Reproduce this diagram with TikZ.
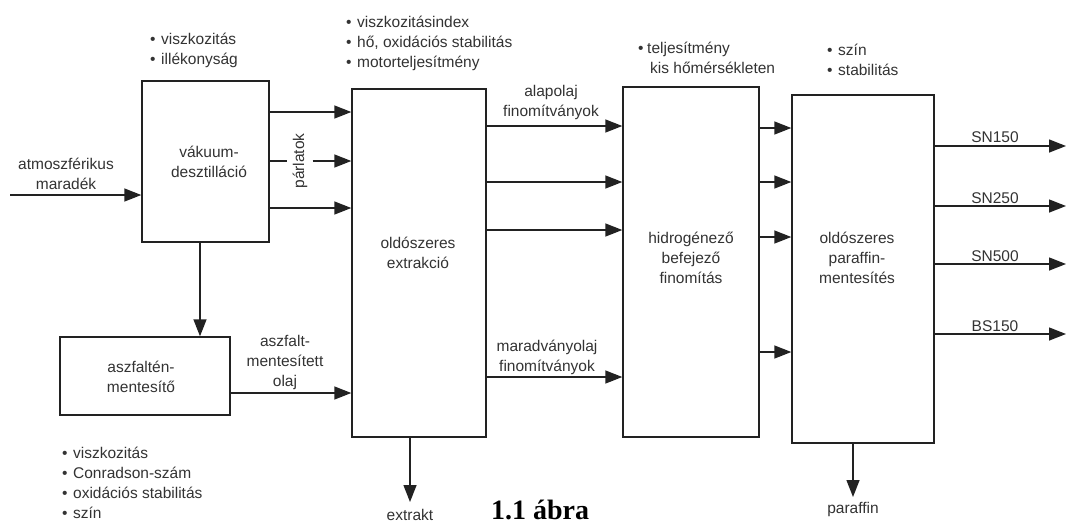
\documentclass[tikz,border=0pt]{standalone}
\usepackage{fontspec}
\setmainfont{Liberation Sans}
\newfontfamily\capfont{Liberation Serif}
\usetikzlibrary{arrows.meta}
\definecolor{linec}{HTML}{222222}
\definecolor{textc}{HTML}{333333}
\newcommand\bl{\makebox[11pt][l]{•}}
\tikzset{
  box/.style={draw=linec, line width=1.4pt, inner sep=0pt, fill=white},
  conn/.style={draw=linec, line width=1.4pt},
  arr/.style={conn, -{Triangle[length=17pt,width=13pt]}},
  txt/.style={text=textc, font=\fontsize{15.5}{20}\selectfont, align=center, inner sep=0pt},
  lst/.style={txt, align=left, anchor=west},
}
\begin{document}
\begin{tikzpicture}[x=1pt,y=-1pt]
\fill[white] (0,0) rectangle (1067,523);
\useasboundingbox (0,0) rectangle (1067,523);

% boxes
\node[box, minimum width=127pt, minimum height=161pt] (vd) at (205.5,161.5) {};
\node[box, minimum width=134pt, minimum height=348pt] (ex) at (419,263) {};
\node[box, minimum width=136pt, minimum height=350pt] (hb) at (691,262) {};
\node[box, minimum width=142pt, minimum height=348pt] (pm) at (863,269) {};
\node[box, minimum width=170pt, minimum height=78pt] (am) at (145,376) {};

% box texts
\node[txt] (vdt) at (209,161.5) {vákuum-\\desztilláció};
\node[txt] (ext) at (418,253) {oldószeres\\extrakció};
\node[txt] (hbt) at (691,258) {hidrogénező\\befejező\\finomítás};
\node[txt] (pmt) at (857,258) {oldószeres\\paraffin-\\mentesítés};
\node[txt] (amt) at (141,377) {aszfaltén-\\mentesítő};

% property lists
\node[lst] (l1) at (150,50.5) {\bl viszkozitás\\\bl illékonyság};
\node[lst] (l2) at (346,43) {\bl viszkozitásindex\\\bl hő, oxidációs stabilitás\\\bl motorteljesítmény};
\node[lst] (l3) at (638,57.5) {\makebox[9pt][l]{•}teljesítmény\\\hspace*{12pt}kis hőmérsékleten};
\node[lst] (l4) at (827,60) {\bl szín\\\bl stabilitás};
\node[lst] (l5) at (62,482.5) {\bl viszkozitás\\\bl Conradson-szám\\\bl oxidációs stabilitás\\\bl szín};

% level coordinates
\coordinate (y112) at (0,112);
\coordinate (y161) at (0,161);
\coordinate (y208) at (0,208);
\coordinate (y126) at (0,126);
\coordinate (y182) at (0,182);
\coordinate (y230) at (0,230);
\coordinate (y377) at (0,377);
\coordinate (y128) at (0,128);
\coordinate (y237) at (0,237);
\coordinate (y352) at (0,352);
\coordinate (y393) at (0,393);
\coordinate (x200) at (200,0);

% input
\coordinate (in) at (10,195);
\node[txt] (int) at (66,174) {atmoszférikus\\maradék};
\draw[arr] (in) -- (vd.west |- in);

% vacuum distillation -> extraction
\node[txt, rotate=90, inner xsep=2pt, inner ysep=5pt, fill=white] (pl) at (300,161) {párlatok};
\draw[arr] (vd.east |- y112) -- (ex.west |- y112);
\draw[conn] (vd.east |- y161) -- (pl.north);
\draw[arr] (pl.south) -- (ex.west |- y161);
\draw[arr] (vd.east |- y208) -- (ex.west |- y208);

% vacuum distillation -> deasphalting
\draw[arr] (vd.south -| x200) -- (am.north -| x200);

% deasphalting -> extraction
\draw[arr] (am.east |- y393) -- (ex.west |- y393);
\node[txt] (amo) at (285,362) {aszfalt-\\mentesített\\olaj};

% extraction -> hydrofinishing
\draw[arr] (ex.east |- y126) -- (hb.west |- y126);
\draw[arr] (ex.east |- y182) -- (hb.west |- y182);
\draw[arr] (ex.east |- y230) -- (hb.west |- y230);
\draw[arr] (ex.east |- y377) -- (hb.west |- y377);
\node[txt] (ala) at (551,102) {alapolaj\\finomítványok};
\node[txt] (mar) at (547,357) {maradványolaj\\finomítványok};

% extract
\coordinate (exk) at (410,502);
\draw[arr] (ex.south -| exk) -- (exk);
\node[txt] (ext2) at (410,515) {extrakt};

% hydrofinishing -> dewaxing
\draw[arr] (hb.east |- y128) -- (pm.west |- y128);
\draw[arr] (hb.east |- y182) -- (pm.west |- y182);
\draw[arr] (hb.east |- y237) -- (pm.west |- y237);
\draw[arr] (hb.east |- y352) -- (pm.west |- y352);

% products
\coordinate (o1) at (1066,146);
\coordinate (o2) at (1066,206);
\coordinate (o3) at (1066,264);
\coordinate (o4) at (1066,334);
\draw[arr] (pm.east |- o1) -- (o1);
\draw[arr] (pm.east |- o2) -- (o2);
\draw[arr] (pm.east |- o3) -- (o3);
\draw[arr] (pm.east |- o4) -- (o4);
\node[txt] (sn1) at (995,137) {SN150};
\node[txt] (sn2) at (995,198) {SN250};
\node[txt] (sn3) at (995,256) {SN500};
\node[txt] (bs) at (995,326) {BS150};

% paraffin
\coordinate (par) at (853,497);
\draw[arr] (pm.south -| par) -- (par);
\node[txt] (part) at (853,509) {paraffin};

% caption
\node[font=\capfont\bfseries\fontsize{28}{30}\selectfont, anchor=base, inner sep=0pt] (cap) at (540,519) {1.1 ábra};
\end{tikzpicture}
\end{document}
